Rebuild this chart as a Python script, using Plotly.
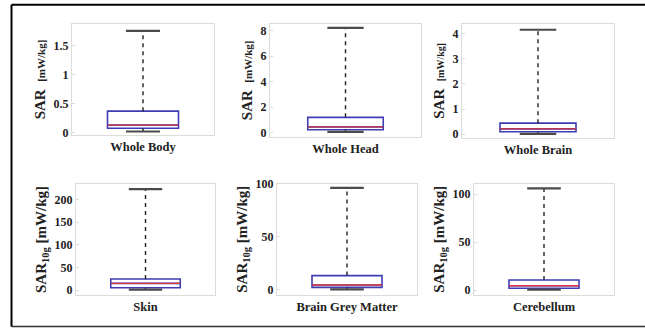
import plotly.graph_objects as go

# ---- data ----
categories = ["Whole Body", "Whole Head", "Whole Brain", "Skin", "Brain Grey Matter", "Cerebellum"]
mins    = [0.02, 0.08, 0.01, 1.0, 0.5, 0.5]
q1s     = [0.075, 0.24, 0.10, 5.0, 2.5, 1.8]
medians = [0.13, 0.47, 0.21, 14.7, 4.7, 4.5]
q3s     = [0.37, 1.21, 0.44, 24.3, 13.5, 10.4]
maxs    = [1.75, 8.2, 4.16, 222.8, 95.9, 105.9]
y_ranges = [[-0.04, 1.87], [-0.3, 8.5], [-0.14, 4.39], [-11, 234], [-4.7, 100], [-5.2, 111]]
y_ticks = [[0, 0.5, 1, 1.5], [0, 2, 4, 6, 8], [0, 1, 2, 3, 4], [0, 50, 100, 150, 200], [0, 50, 100], [0, 50, 100]]
y_titles = ["<b>SAR</b>  <b><span style='font-size:11px'>[mW/kg]</span></b>",
            "<b>SAR</b>  <b><span style='font-size:11px'>[mW/kg]</span></b>",
            "<b>SAR</b>  <b><span style='font-size:10px'>[mW/kg]</span></b>",
            "<b>SAR<sub>10g</sub> [mW/kg]</b>",
            "<b>SAR<sub>10g</sub> [mW/kg]</b>",
            "<b>SAR<sub>10g</sub> [mW/kg]</b>"]

W, H = 645, 328
# plot-area pixel boxes (left, right, top, bottom)
px_boxes = [(72, 214, 24, 135), (270, 421, 24, 136.7), (462, 614, 24, 137.7),
            (76, 215, 184, 295), (277, 417, 183.5, 295), (474, 614, 183.5, 295)]

BOX = "#3c3cb4"
MED = "#d8383c"
CAP = "#4a4a4a"
FONT = "Liberation Serif"

fig = go.Figure()
layout = {}
for i in range(6):
    n = "" if i == 0 else str(i + 1)
    xa, ya = "x" + n, "y" + n
    l, r, t, b = px_boxes[i]
    fig.add_trace(go.Box(
        x=[0], q1=[q1s[i]], median=[medians[i]], q3=[q3s[i]],
        lowerfence=[q1s[i]], upperfence=[q3s[i]],
        width=1.0, whiskerwidth=0,
        line=dict(color=BOX, width=1.6), fillcolor="rgba(255,255,255,0)",
        xaxis=xa, yaxis=ya, showlegend=False, hoverinfo="skip"))
    # whiskers
    fig.add_trace(go.Scatter(x=[0, 0], y=[q3s[i], maxs[i]], mode="lines",
                             line=dict(color="#222222", width=1.4, dash="4px,4px"),
                             xaxis=xa, yaxis=ya, showlegend=False, hoverinfo="skip"))
    fig.add_trace(go.Scatter(x=[0, 0], y=[mins[i], q1s[i]], mode="lines",
                             line=dict(color="#222222", width=1.4, dash="4px,4px"),
                             xaxis=xa, yaxis=ya, showlegend=False, hoverinfo="skip"))
    # caps
    for v in (mins[i], maxs[i]):
        fig.add_trace(go.Scatter(x=[-0.24, 0.24], y=[v, v], mode="lines",
                                 line=dict(color=CAP, width=2.2),
                                 xaxis=xa, yaxis=ya, showlegend=False, hoverinfo="skip"))
    # median
    fig.add_trace(go.Scatter(x=[-0.5, 0.5], y=[medians[i], medians[i]], mode="lines",
                             line=dict(color=MED, width=1.4),
                             xaxis=xa, yaxis=ya, showlegend=False, hoverinfo="skip"))

    layout["xaxis" + n] = dict(
        domain=[l / W, r / W], anchor=ya, range=[-1, 1], automargin=False,
        tickvals=[0], ticktext=["<b>" + categories[i] + "</b>"], ticks="",
        tickfont=dict(family=FONT, size=12.5, color="#222"),
        showgrid=False, zeroline=False, showline=True, mirror=True,
        linecolor="#dcdcdc", linewidth=1)
    layout["yaxis" + n] = dict(
        domain=[1 - b / H, 1 - t / H], anchor=xa, range=y_ranges[i], automargin=False,
        tickvals=y_ticks[i], ticktext=["<b>%g</b>" % v for v in y_ticks[i]],
        ticks="inside", ticklen=3, tickcolor="#dcdcdc",
        tickfont=dict(family=FONT, size=12, color="#222"),
        title=dict(text=y_titles[i], font=dict(family=FONT, size=15, color="#222"), standoff=4),
        showgrid=False, zeroline=False, showline=True, mirror=True,
        linecolor="#dcdcdc", linewidth=1)

x_left = 11.5 / W
y_top = 1 - 4.8 / H
y_bot = 1 - 326.5 / H
frame = [
    dict(type="line", xref="paper", yref="paper", x0=x_left, x1=1.0, y0=y_top, y1=y_top,
         line=dict(color="black", width=2)),
    dict(type="line", xref="paper", yref="paper", x0=x_left, x1=1.0, y0=y_bot, y1=y_bot,
         line=dict(color="#333333", width=1.5)),
    dict(type="line", xref="paper", yref="paper", x0=x_left, x1=x_left, y0=y_bot, y1=y_top,
         line=dict(color="black", width=2)),
]

fig.update_layout(
    width=W, height=H, margin=dict(l=0, r=0, t=0, b=0),
    paper_bgcolor="white", plot_bgcolor="white",
    shapes=frame,
    **layout)

fig.write_html("out.html", config={"displayModeBar": False},
               post_script=("document.documentElement.style.overflow='hidden';"
                            "document.documentElement.style.margin='0px';"
                            "document.body.style.margin='0px';"
                            "document.body.style.overflow='hidden';"))
